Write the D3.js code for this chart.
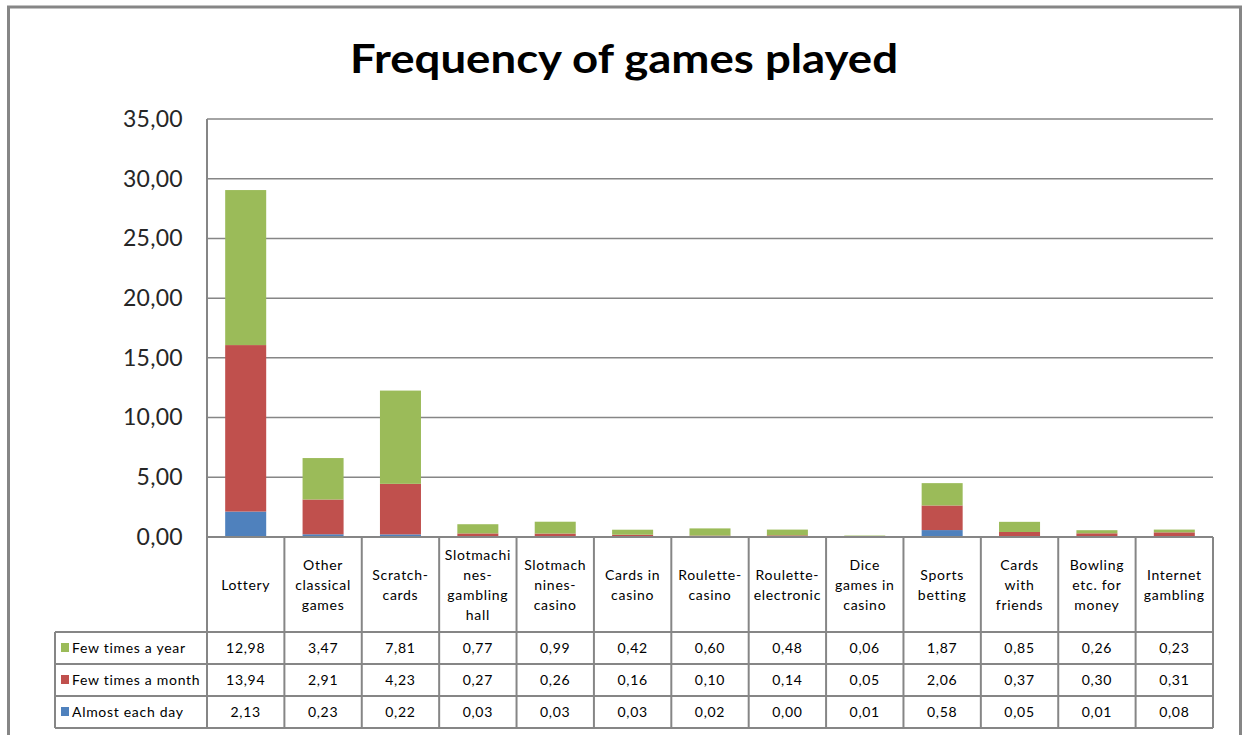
<!DOCTYPE html>
<html>
<head>
<meta charset="utf-8">
<script src="https://cdn.jsdelivr.net/npm/d3@7"></script>
<style>
  html, body { margin: 0; padding: 0; background: #fff; }
  svg { display: block; }
  text { font-family: Lato, "Open Sans", "Liberation Sans", sans-serif; }
</style>
</head>
<body>
<svg id="chart" width="1245" height="735"></svg>
<script>
// Categories (header lines of the data table)
const categories = [
  ["Lottery"],
  ["Other", "classical", "games"],
  ["Scratch-", "cards"],
  ["Slotmachi", "nes-", "gambling", "hall"],
  ["Slotmach", "nines-", "casino"],
  ["Cards in", "casino"],
  ["Roulette-", "casino"],
  ["Roulette-", "electronic"],
  ["Dice", "games in", "casino"],
  ["Sports", "betting"],
  ["Cards", "with", "friends"],
  ["Bowling", "etc. for", "money"],
  ["Internet", "gambling"]
];

const fewTimesAYear  = [12.98, 3.47, 7.81, 0.77, 0.99, 0.42, 0.60, 0.48, 0.06, 1.87, 0.85, 0.26, 0.23];
const fewTimesAMonth = [13.94, 2.91, 4.23, 0.27, 0.26, 0.16, 0.10, 0.14, 0.05, 2.06, 0.37, 0.30, 0.31];
const almostEachDay  = [2.13, 0.23, 0.22, 0.03, 0.03, 0.03, 0.02, 0.00, 0.01, 0.58, 0.05, 0.01, 0.08];

const yTicks = [0, 5, 10, 15, 20, 25, 30, 35];

// Series in table order (top to bottom); stacked bottom-up in reverse
const series = [
  { name: "Few times a year",  values: fewTimesAYear,  color: "#9BBB59" },
  { name: "Few times a month", values: fewTimesAMonth, color: "#C0504D" },
  { name: "Almost each day",   values: almostEachDay,  color: "#4F81BD" }
];

const plot = { left: 207, right: 1213, top: 119, bottom: 537 };
const tableLeft = 55;
const rowEdges = [632, 664, 696, 728];
const gridColor = "#868686";

const locale = d3.formatLocale({ decimal: ",", thousands: ".", grouping: [3], currency: ["", "€"] });
const fmt = locale.format(".2f");

const svg = d3.select("#chart");

// Outer chart frame
svg.append("rect")
  .attr("x", 8.5).attr("y", 7)
  .attr("width", 1232).attr("height", 760)
  .attr("fill", "#fff").attr("stroke", gridColor).attr("stroke-width", 3);

// Title
svg.append("text")
  .attr("x", 350).attr("y", 73)
  .attr("font-size", 40).attr("font-weight", "bold")
  .attr("textLength", 548).attr("lengthAdjust", "spacingAndGlyphs")
  .attr("fill", "#000")
  .text("Frequency of games played");

const y = d3.scaleLinear().domain([0, 35]).range([plot.bottom, plot.top]);
const x = d3.scaleBand()
  .domain(d3.range(categories.length))
  .range([plot.left, plot.right])
  .paddingInner(0).paddingOuter(0);
const barW = x.bandwidth() * 0.53;

// Gridlines
svg.append("g")
  .selectAll("line")
  .data(yTicks.filter(t => t > 0))
  .join("line")
  .attr("x1", plot.left).attr("x2", plot.right)
  .attr("y1", d => y(d)).attr("y2", d => y(d))
  .attr("stroke", gridColor).attr("stroke-width", 1.5);

// Y axis labels
const yAxis = d3.axisLeft(y).tickValues(yTicks).tickFormat(fmt).tickSize(0).tickPadding(24);
const yg = svg.append("g").attr("transform", `translate(${plot.left},0)`).call(yAxis);
yg.select(".domain").remove();
yg.selectAll("text")
  .attr("font-size", 23)
  .attr("letter-spacing", 0.3)
  .attr("fill", "#262626")
  .attr("font-family", "Lato, 'Open Sans', sans-serif");

// Stacked bars
const rows = categories.map((c, i) => {
  const r = { i };
  series.forEach(s => { r[s.name] = s.values[i]; });
  return r;
});
const stack = d3.stack().keys(series.map(s => s.name).reverse());
const layers = stack(rows);
const colorOf = Object.fromEntries(series.map(s => [s.name, s.color]));

svg.append("g")
  .selectAll("g")
  .data(layers)
  .join("g")
  .attr("fill", d => colorOf[d.key])
  .selectAll("rect")
  .data(d => d)
  .join("rect")
  .attr("x", d => x(d.data.i) + (x.bandwidth() - barW) / 2)
  .attr("width", barW)
  .attr("y", d => y(d[1]))
  .attr("height", d => Math.max(0, y(d[0]) - y(d[1])));

// Data table
const tg = svg.append("g");
const lineAttrs = sel => sel.attr("stroke", gridColor).attr("stroke-width", 2);

// axis line / top of header row
tg.append("line").attr("x1", plot.left).attr("x2", plot.right)
  .attr("y1", plot.bottom).attr("y2", plot.bottom).call(lineAttrs);
// value row lines
rowEdges.forEach(ry => {
  tg.append("line").attr("x1", tableLeft).attr("x2", plot.right)
    .attr("y1", ry).attr("y2", ry).call(lineAttrs);
});
// left edge of plot / table body
tg.append("line").attr("x1", plot.left).attr("x2", plot.left)
  .attr("y1", plot.top).attr("y2", rowEdges[3]).call(lineAttrs);
// legend column left edge
tg.append("line").attr("x1", tableLeft).attr("x2", tableLeft)
  .attr("y1", rowEdges[0]).attr("y2", rowEdges[3]).call(lineAttrs);
// column separators
d3.range(1, categories.length + 1).forEach(i => {
  const cx = i < categories.length ? x(i) : plot.right;
  tg.append("line").attr("x1", cx).attr("x2", cx)
    .attr("y1", plot.bottom).attr("y2", rowEdges[3]).call(lineAttrs);
});

// Header labels
const lineH = 20;
categories.forEach((lines, i) => {
  const cx = x(i) + x.bandwidth() / 2;
  const cy = (plot.bottom + rowEdges[0]) / 2;
  const t = tg.append("text")
    .attr("text-anchor", "middle")
    .attr("font-size", 14)
    .attr("letter-spacing", 0.7)
    .attr("fill", "#000");
  lines.forEach((ln, k) => {
    t.append("tspan")
      .attr("x", cx)
      .attr("y", cy + (k - (lines.length - 1) / 2) * lineH + 5)
      .text(ln);
  });
});

// Legend column + values
series.forEach((s, r) => {
  const top = rowEdges[r], bot = rowEdges[r + 1];
  const cy = (top + bot) / 2;
  tg.append("rect")
    .attr("x", 61).attr("y", cy - 5)
    .attr("width", 8).attr("height", 9)
    .attr("fill", s.color);
  tg.append("text")
    .attr("x", 72).attr("y", cy + 5)
    .attr("font-size", 14)
    .attr("letter-spacing", 0.7)
    .attr("fill", "#000")
    .text(s.name);
  s.values.forEach((v, i) => {
    tg.append("text")
      .attr("x", x(i) + x.bandwidth() / 2)
      .attr("y", cy + 5)
      .attr("text-anchor", "middle")
      .attr("font-size", 14)
      .attr("letter-spacing", 0.7)
      .attr("fill", "#000")
      .text(fmt(v));
  });
});
</script>
</body>
</html>
